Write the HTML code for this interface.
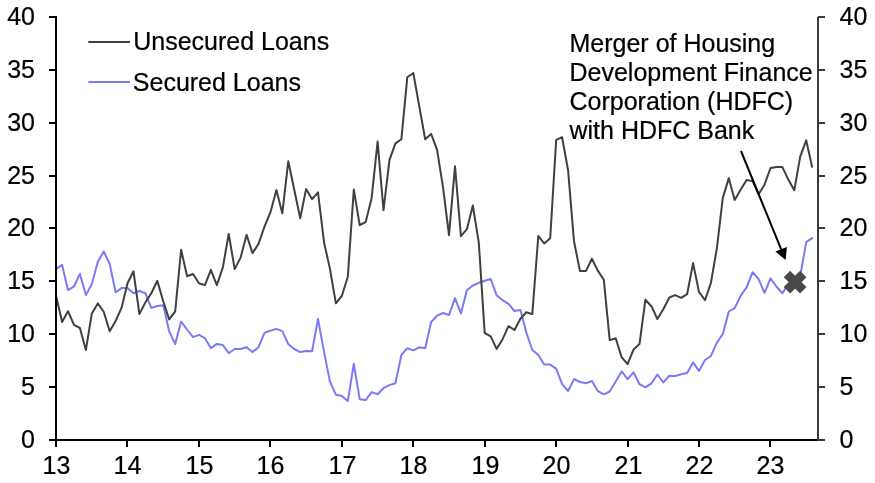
<!DOCTYPE html>
<html lang="en"><head><meta charset="utf-8"><title>Unsecured vs Secured Loans</title>
<style>html,body{margin:0;padding:0;background:#fff}body{width:875px;height:483px;overflow:hidden}</style></head>
<body>
<svg width="875" height="483" viewBox="0 0 875 483" style="display:block;font-family:'Liberation Sans',sans-serif;font-size:25px">
<rect width="875" height="483" fill="#fff"/>
<polyline fill="none" stroke="#7a7af7" stroke-width="2" stroke-linejoin="round" stroke-linecap="round" points="56.1,268.9 62.1,264.9 68.0,290.1 74.0,286.3 79.9,274.0 85.9,295.1 91.8,284.1 97.8,261.8 103.7,251.5 109.7,264.0 115.6,292.3 121.6,288.1 127.5,288.1 133.5,293.2 139.4,291.0 145.4,293.2 151.3,308.0 157.3,306.0 163.3,305.2 169.2,331.3 175.2,344.1 181.1,321.6 187.1,329.5 193.0,337.1 199.0,334.9 204.9,338.2 210.9,348.1 216.8,343.9 222.8,345.0 228.7,353.2 234.7,349.0 240.6,349.0 246.6,347.2 252.5,352.1 258.5,347.2 264.5,332.9 270.4,330.7 276.4,328.9 282.3,331.1 288.3,344.1 294.2,349.0 300.2,352.1 306.1,351.0 312.1,351.2 318.0,318.9 324.0,351.8 329.9,381.4 335.9,394.7 341.8,396.0 347.8,401.1 353.8,363.9 359.7,399.2 365.7,400.1 371.6,392.1 377.6,394.3 383.5,388.2 389.5,385.1 395.4,383.3 401.4,354.9 407.3,348.2 413.3,350.4 419.2,347.3 425.2,348.2 431.1,322.0 437.1,315.7 443.0,313.0 449.0,315.0 455.0,298.1 460.9,313.4 466.9,290.3 472.8,285.5 478.8,282.8 484.7,280.8 490.7,279.0 496.6,295.2 502.6,300.2 508.5,303.9 514.5,311.0 520.4,309.9 526.4,332.7 532.3,350.0 538.3,354.9 544.2,364.6 550.2,364.6 556.2,368.7 562.1,384.2 568.1,391.0 574.0,379.1 580.0,382.0 585.9,383.3 591.9,381.1 597.8,391.1 603.8,394.3 609.7,391.5 615.7,381.5 621.6,371.4 627.6,379.1 633.5,372.3 639.5,384.2 645.4,387.3 651.4,383.3 657.4,374.5 663.3,382.5 669.3,375.7 675.2,376.1 681.2,374.3 687.1,373.0 693.1,362.4 699.0,371.0 705.0,360.0 710.9,356.0 716.9,342.6 722.8,334.0 728.8,311.5 734.7,308.1 740.7,295.7 746.6,287.4 752.6,272.2 758.6,279.2 764.5,292.9 770.5,278.3 776.4,286.5 782.4,293.3 788.3,283.9 794.3,282.5 800.2,276.2 806.2,242.1 812.1,238.1"/>
<polyline fill="none" stroke="#404040" stroke-width="2" stroke-linejoin="round" stroke-linecap="round" points="56.1,296.0 62.1,322.0 68.0,311.2 74.0,324.8 79.9,328.0 85.9,349.9 91.8,313.6 97.8,303.4 103.7,311.8 109.7,331.3 115.6,321.0 121.6,307.7 127.5,283.2 133.5,271.3 139.4,314.1 145.4,302.4 151.3,293.2 157.3,280.8 163.3,301.5 169.2,319.4 175.2,311.4 181.1,249.7 187.1,276.2 193.0,274.0 199.0,283.2 204.9,285.1 210.9,269.9 216.8,285.1 222.8,267.7 228.7,233.9 234.7,269.1 240.6,257.6 246.6,234.8 252.5,253.1 258.5,243.9 264.5,226.7 270.4,212.4 276.4,190.1 282.3,213.3 288.3,161.2 294.2,189.5 300.2,218.2 306.1,189.1 312.1,199.2 318.0,192.3 324.0,242.2 329.9,268.6 335.9,303.3 341.8,296.0 347.8,276.8 353.8,189.5 359.7,225.2 365.7,222.0 371.6,198.2 377.6,141.6 383.5,210.1 389.5,159.8 395.4,143.4 401.4,139.2 407.3,77.2 413.3,73.0 419.2,105.9 425.2,139.2 431.1,133.9 437.1,149.8 443.0,187.2 449.0,235.2 455.0,166.2 460.9,236.2 466.9,229.2 472.8,205.5 478.8,242.6 484.7,333.0 490.7,336.3 496.6,348.9 502.6,339.2 508.5,326.2 514.5,330.0 520.4,318.7 526.4,312.3 532.3,314.1 538.3,235.9 544.2,243.5 550.2,238.2 556.2,139.8 562.1,137.2 568.1,170.5 574.0,241.3 580.0,271.1 585.9,271.1 591.9,258.7 597.8,270.6 603.8,279.7 609.7,340.1 615.7,338.2 621.6,357.1 627.6,364.2 633.5,349.6 639.5,344.1 645.4,299.8 651.4,306.2 657.4,319.0 663.3,309.2 669.3,297.5 675.2,295.1 681.2,297.8 687.1,294.2 693.1,263.1 699.0,292.0 705.0,300.2 710.9,282.9 716.9,248.1 722.8,197.9 728.8,178.1 734.7,200.0 740.7,189.6 746.6,179.9 752.6,181.0 758.6,194.2 764.5,184.7 770.5,168.1 776.4,167.1 782.4,167.1 788.3,179.6 794.3,190.2 800.2,156.7 806.2,140.3 812.1,166.8"/>
<g fill="#000" shape-rendering="crispEdges">
<rect x="55" y="16" width="2" height="425"/>
<rect x="55" y="439" width="763" height="2"/>
<rect x="49" y="439" width="7" height="2"/>
<rect x="49" y="386" width="7" height="2"/>
<rect x="49" y="333" width="7" height="2"/>
<rect x="49" y="280" width="7" height="2"/>
<rect x="49" y="227" width="7" height="2"/>
<rect x="49" y="175" width="7" height="2"/>
<rect x="49" y="122" width="7" height="2"/>
<rect x="49" y="69" width="7" height="2"/>
<rect x="49" y="16" width="7" height="2"/>
<rect x="55" y="440" width="2" height="7"/>
<rect x="126" y="440" width="2" height="7"/>
<rect x="198" y="440" width="2" height="7"/>
<rect x="269" y="440" width="2" height="7"/>
<rect x="341" y="440" width="2" height="7"/>
<rect x="412" y="440" width="2" height="7"/>
<rect x="484" y="440" width="2" height="7"/>
<rect x="555" y="440" width="2" height="7"/>
<rect x="627" y="440" width="2" height="7"/>
<rect x="698" y="440" width="2" height="7"/>
<rect x="769" y="440" width="2" height="7"/>
</g>
<g fill="#3a3a3a" shape-rendering="crispEdges">
<rect x="817" y="17" width="2" height="424"/>
<rect x="818" y="439" width="7" height="2"/>
<rect x="818" y="386" width="7" height="2"/>
<rect x="818" y="333" width="7" height="2"/>
<rect x="818" y="280" width="7" height="2"/>
<rect x="818" y="227" width="7" height="2"/>
<rect x="818" y="175" width="7" height="2"/>
<rect x="818" y="122" width="7" height="2"/>
<rect x="818" y="69" width="7" height="2"/>
<rect x="818" y="16" width="7" height="2"/>
</g>
<g fill="#000" stroke="#000" stroke-width="0.22">
<text x="35" y="448.3" text-anchor="end">0</text>
<text x="839.5" y="448.3">0</text>
<text x="35" y="395.3" text-anchor="end">5</text>
<text x="839.5" y="395.3">5</text>
<text x="35" y="342.3" text-anchor="end">10</text>
<text x="839.5" y="342.3">10</text>
<text x="35" y="289.3" text-anchor="end">15</text>
<text x="839.5" y="289.3">15</text>
<text x="35" y="236.3" text-anchor="end">20</text>
<text x="839.5" y="236.3">20</text>
<text x="35" y="184.3" text-anchor="end">25</text>
<text x="839.5" y="184.3">25</text>
<text x="35" y="131.3" text-anchor="end">30</text>
<text x="839.5" y="131.3">30</text>
<text x="35" y="78.3" text-anchor="end">35</text>
<text x="839.5" y="78.3">35</text>
<text x="35" y="25.3" text-anchor="end">40</text>
<text x="839.5" y="25.3">40</text>
<text x="56.4" y="473.6" text-anchor="middle">13</text>
<text x="127.4" y="473.6" text-anchor="middle">14</text>
<text x="199.4" y="473.6" text-anchor="middle">15</text>
<text x="270.4" y="473.6" text-anchor="middle">16</text>
<text x="342.4" y="473.6" text-anchor="middle">17</text>
<text x="413.4" y="473.6" text-anchor="middle">18</text>
<text x="485.4" y="473.6" text-anchor="middle">19</text>
<text x="556.4" y="473.6" text-anchor="middle">20</text>
<text x="628.4" y="473.6" text-anchor="middle">21</text>
<text x="699.4" y="473.6" text-anchor="middle">22</text>
<text x="770.4" y="473.6" text-anchor="middle">23</text>
<text x="133.2" y="50">Unsecured Loans</text>
<text x="132.8" y="90.8">Secured Loans</text>
<text x="569.5" y="51.9">Merger of Housing</text>
<text x="569.5" y="81.0">Development Finance</text>
<text x="569.5" y="110.0">Corporation (HDFC)</text>
<text x="569.5" y="139.1">with HDFC Bank</text>
</g>
<path d="M88.3 42H130" stroke="#404040" stroke-width="2"/>
<path d="M88.3 82H130" stroke="#7a7af7" stroke-width="2"/>
<path d="M741 151L782.5 252.6" stroke="#000" stroke-width="2" fill="none"/>
<path d="M785.6 260L775.4 251.6L786.9 246.9Z" fill="#000"/>
<g transform="translate(795.1 282.1) rotate(45)" fill="#484848"><rect x="-11.5" y="-4.5" width="23.0" height="9.0"/><rect x="-4.5" y="-11.5" width="9.0" height="23.0"/></g>
</svg>
</body></html>
